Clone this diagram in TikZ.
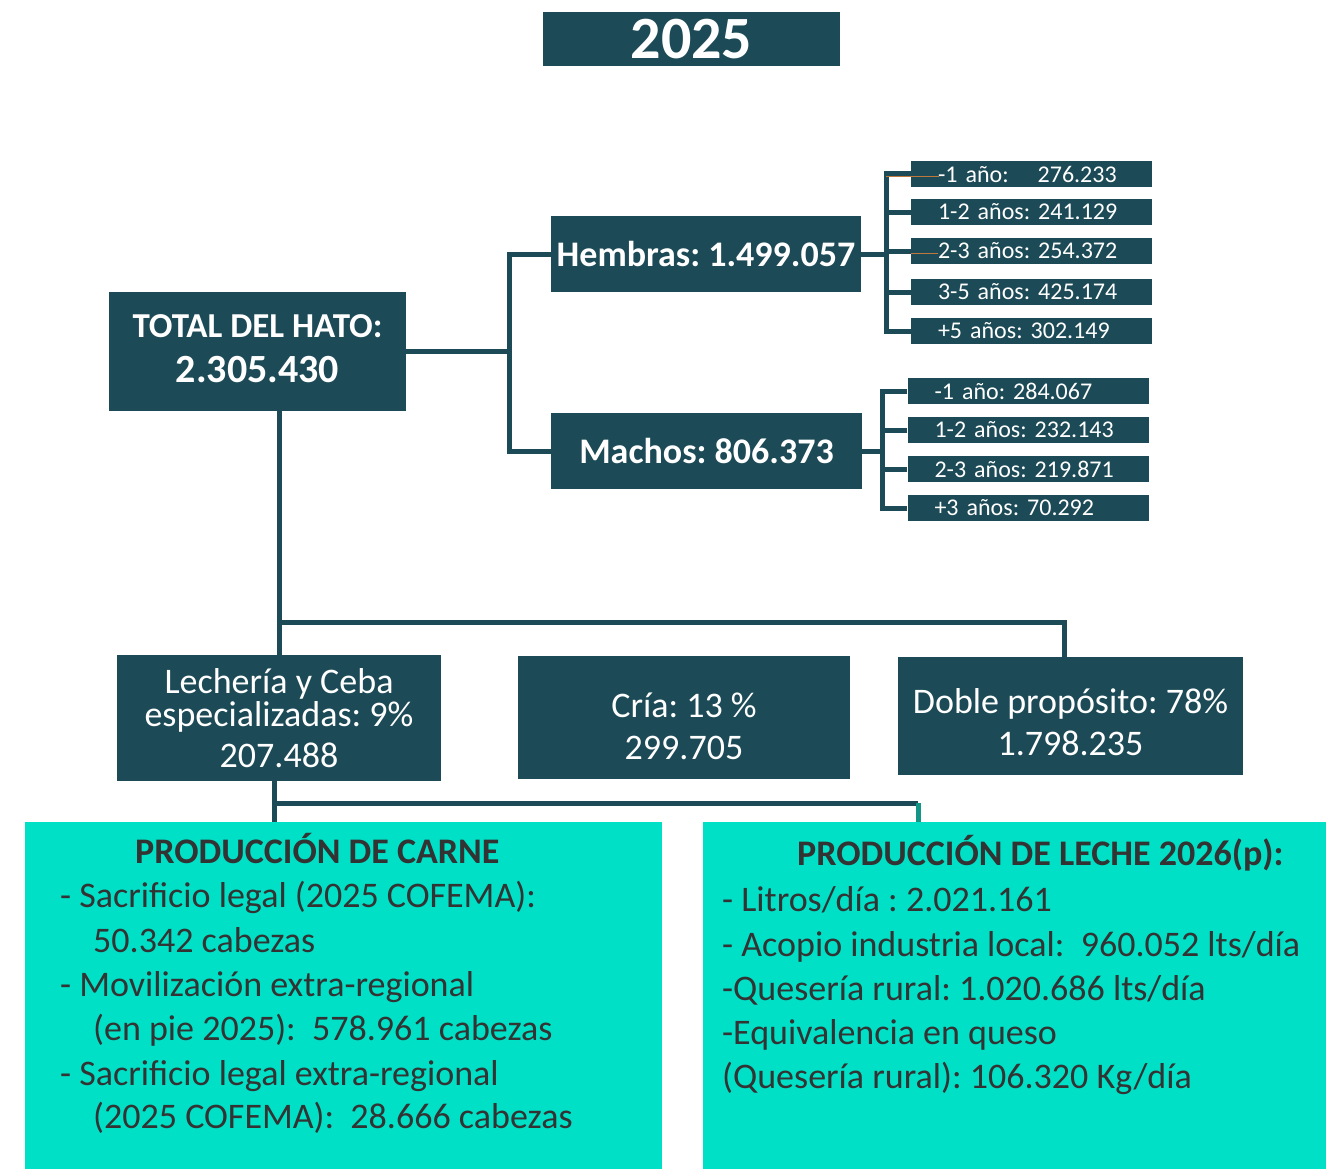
\documentclass[tikz,border=0pt]{standalone}
\usepackage{fontspec}
\setmainfont{Carlito}
\frenchspacing
\usetikzlibrary{calc}

\definecolor{hato}{RGB}{28,74,86}
\definecolor{verde}{RGB}{0,224,198}
\definecolor{verdeosc}{RGB}{20,150,135}
\definecolor{tinta}{RGB}{51,51,51}
\definecolor{cobre}{RGB}{190,120,60}

\tikzset{
  caja/.style={fill=hato, text=white, inner sep=0pt, align=center, font=\fontsize{36}{42}\selectfont},
  edad/.style={fill=hato, text=white, inner ysep=0pt, inner xsep=27pt, text width=187pt, minimum height=26pt, align=left, font=\fontsize{24}{28}\selectfont},
  prod/.style={fill=verde, inner sep=0pt},
  renglon/.style={anchor=base west, inner sep=0pt, text=tinta, font=\fontsize{36}{42}\selectfont},
  rama/.style={draw=hato, line width=5pt},
  hilo/.style={draw=cobre, line width=0.8pt}
}

\begin{document}
\begin{tikzpicture}[x=1pt, y=-1pt]
\useasboundingbox (0,0) rectangle (1329,1169);

% cajas oscuras
\node[caja, minimum width=297pt, minimum height=54pt, font=\bfseries\fontsize{60}{60}\selectfont] (anio) at (691.5,39) {2025};
\node[caja, minimum width=297pt, minimum height=119pt, font=\bfseries\fontsize{35}{44}\selectfont] (total) at (257.5,351.5) {TOTAL DEL HATO:\\[1pt]{\fontsize{40}{44}\selectfont 2.305.430}\rule[-6pt]{0pt}{0pt}};
\node[caja, minimum width=310pt, minimum height=76pt, font=\bfseries\fontsize{36}{42}\selectfont] (hembras) at (706,254) {Hembras: 1.499.057};
\node[caja, minimum width=311pt, minimum height=76pt, font=\bfseries\fontsize{36}{42}\selectfont] (machos) at (706.5,451) {Machos: 806.373};

% edades
\node[edad] (h1) at (1031.5,174) {-1 año:\hspace{29pt}276.233};
\node[edad] (h2) at (1031.5,212) {1-2 años: 241.129};
\node[edad] (h3) at (1031.5,251) {2-3 años: 254.372};
\node[edad] (h4) at (1031.5,292) {3-5 años: 425.174};
\node[edad] (h5) at (1031.5,331) {+5 años: 302.149};
\node[edad] (m1) at (1028,391) {-1 año: 284.067};
\node[edad] (m2) at (1028,430) {1-2 años: 232.143};
\node[edad] (m3) at (1028,469) {2-3 años: 219.871};
\node[edad] (m4) at (1028,508) {+3 años: 70.292};

% sistemas
\node[caja, minimum width=324pt, minimum height=126pt] (lech) at (279,718) {Lechería y Ceba\\[-9pt]especializadas: 9\%\\[-1pt]207.488};
\node[caja, minimum width=332pt, minimum height=123pt] (cria) at (684,717.5) {\rule{0pt}{42pt}Cría: 13 \%\\299.705};
\node[caja, minimum width=345pt, minimum height=118pt] (doble) at (1070.5,716) {\rule{0pt}{37pt}Doble propósito: 78\%\\1.798.235};

% produccion
\node[prod, minimum width=637pt, minimum height=347pt] (carne) at (343.5,995.5) {};
\node[prod, minimum width=623pt, minimum height=347pt] (leche) at (1014.5,995.5) {};

\node[renglon, font=\bfseries\fontsize{36}{42}\selectfont] (c0) at (135,863) {PRODUCCIÓN DE CARNE};
\node[renglon] (c1) at (60,907) {- Sacrificio legal (2025 COFEMA):};
\node[renglon] (c2) at (93,952) {50.342 cabezas};
\node[renglon] (c3) at (60,996) {- Movilización extra-regional};
\node[renglon] (c4) at (93,1040) {(en pie 2025):~ 578.961 cabezas};
\node[renglon] (c5) at (60,1085) {- Sacrificio legal extra-regional};
\node[renglon] (c6) at (93,1128) {(2025 COFEMA):~ 28.666 cabezas};

\node[renglon, font=\bfseries\fontsize{36}{42}\selectfont] (l0) at (797,865) {PRODUCCIÓN DE LECHE 2026(p):};
\node[renglon] (l1) at (722,911) {- Litros/día : 2.021.161};
\node[renglon] (l2) at (722,956) {- Acopio industria local:~ 960.052 lts/día};
\node[renglon] (l3) at (722,1000) {-Quesería rural: 1.020.686 lts/día};
\node[renglon] (l4) at (722,1044) {-Equivalencia en queso};
\node[renglon] (l5) at (722,1088) {(Quesería rural): 106.320 Kg/día};

% conectores
\coordinate (cruce) at (509,349);
\draw[rama] (total.east) -- (total.east -| cruce);
\draw[rama] (hembras.west) -| (cruce) |- (machos.west);

\coordinate (hpeine) at (886,254);
\draw[rama] (hembras.east) -- (hpeine);
\draw[rama] (h1.west) -| (hpeine) |- (h5.west)
  (h2.west) -- (h2.west -| hpeine)
  (h3.west) -- (h3.west -| hpeine)
  (h4.west) -- (h4.west -| hpeine);
\draw[hilo] ($(h1.west -| hpeine)+(0,2)$) -- ($(h1.west)+(28,2)$);
\draw[hilo] ($(h3.west)+(0,2)$) -- ($(h3.west)+(27,2)$);

\coordinate (mpeine) at (882,451);
\draw[rama] (machos.east) -- (mpeine);
\draw[rama] (m1.west) -| (mpeine) |- (m4.west)
  (m2.west) -- (m2.west -| mpeine)
  (m3.west) -- (m3.west -| mpeine);

\coordinate (bus) at (279,622);
\draw[rama] (total.south -| lech.north) -- (lech.north);
\draw[rama] (bus) -| ($(doble.north)+(-6,0)$);
\draw[rama] ($(cria.north)+(20,0)$) -- ($(cria.north)+(20,0)$ |- bus);

\coordinate (reparto) at (274,803);
\coordinate (goteo) at (918,803);
\draw[rama] ($(lech.south)+(-5,0)$) -- (carne.north -| reparto);
\draw[rama] (reparto) -- (goteo);
\draw[verdeosc, line width=5pt] (goteo) -- (goteo |- leche.north);
\end{tikzpicture}
\end{document}
